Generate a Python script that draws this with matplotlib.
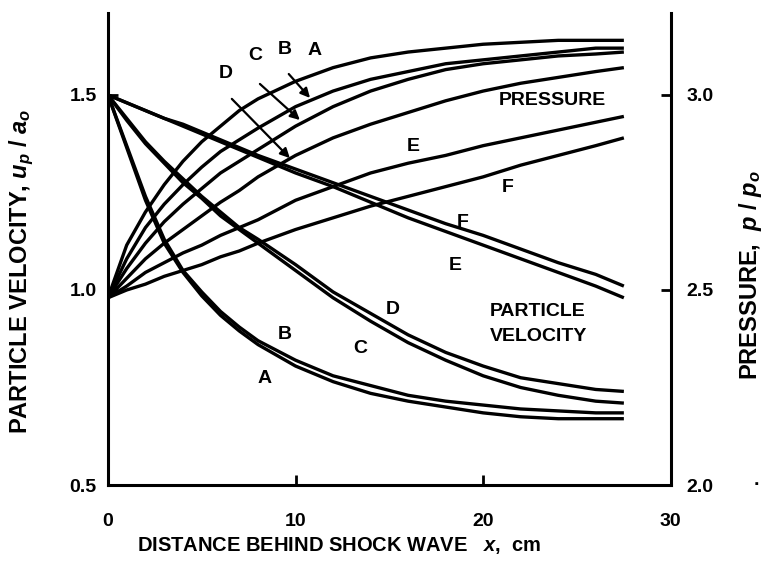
import numpy as np
import matplotlib.pyplot as plt

plt.rcParams['font.family'] = ['Liberation Sans', 'DejaVu Sans']
plt.rcParams['mathtext.fontset'] = 'custom'
plt.rcParams['mathtext.rm'] = 'Liberation Sans:bold'
plt.rcParams['mathtext.it'] = 'Liberation Sans:italic:bold'
plt.rcParams['mathtext.bf'] = 'Liberation Sans:bold'

# distance behind shock wave [cm]
x = [0, 1, 2, 3, 4, 5, 6, 7, 8, 10, 12, 14, 16, 18, 20, 22, 24, 26, 27.5]

# particle velocity u_p / a_o
u_A = [1.5, 1.365, 1.23, 1.12, 1.045, 0.985, 0.935, 0.895, 0.86, 0.805, 0.765, 0.735, 0.715, 0.70, 0.685, 0.675, 0.67, 0.67, 0.67]
u_B = [1.5, 1.37, 1.24, 1.13, 1.05, 0.995, 0.945, 0.905, 0.87, 0.82, 0.78, 0.755, 0.73, 0.715, 0.705, 0.695, 0.69, 0.685, 0.685]
u_C = [1.5, 1.435, 1.375, 1.325, 1.275, 1.235, 1.19, 1.155, 1.12, 1.05, 0.98, 0.92, 0.865, 0.82, 0.78, 0.75, 0.73, 0.715, 0.71]
u_D = [1.5, 1.44, 1.38, 1.33, 1.285, 1.24, 1.20, 1.16, 1.13, 1.065, 0.995, 0.94, 0.885, 0.84, 0.805, 0.775, 0.76, 0.745, 0.74]
u_E = [1.5, 1.48, 1.46, 1.44, 1.42, 1.40, 1.38, 1.36, 1.34, 1.30, 1.265, 1.225, 1.185, 1.15, 1.115, 1.08, 1.045, 1.01, 0.98]
u_F = [1.5, 1.48, 1.46, 1.44, 1.425, 1.405, 1.385, 1.365, 1.345, 1.31, 1.275, 1.24, 1.205, 1.17, 1.14, 1.105, 1.07, 1.04, 1.01]

# pressure p / p_o
p_A = [2.48, 2.615, 2.70, 2.77, 2.83, 2.88, 2.92, 2.96, 2.99, 3.035, 3.07, 3.095, 3.11, 3.12, 3.13, 3.135, 3.14, 3.14, 3.14]
p_B = [2.48, 2.58, 2.66, 2.72, 2.77, 2.815, 2.855, 2.885, 2.915, 2.97, 3.01, 3.04, 3.06, 3.08, 3.09, 3.10, 3.11, 3.12, 3.12]
p_C = [2.48, 2.555, 2.62, 2.675, 2.72, 2.76, 2.80, 2.83, 2.86, 2.92, 2.97, 3.01, 3.04, 3.065, 3.08, 3.09, 3.10, 3.105, 3.11]
p_D = [2.48, 2.53, 2.58, 2.62, 2.655, 2.69, 2.725, 2.755, 2.79, 2.845, 2.89, 2.925, 2.955, 2.985, 3.01, 3.03, 3.045, 3.06, 3.07]
p_E = [2.48, 2.51, 2.545, 2.57, 2.595, 2.615, 2.64, 2.66, 2.68, 2.73, 2.765, 2.80, 2.825, 2.845, 2.87, 2.89, 2.91, 2.93, 2.945]
p_F = [2.48, 2.50, 2.515, 2.535, 2.55, 2.565, 2.585, 2.60, 2.62, 2.655, 2.685, 2.715, 2.74, 2.765, 2.79, 2.82, 2.845, 2.87, 2.89]

fig = plt.figure(figsize=(7.71, 5.77), dpi=100)
ax = fig.add_axes([0.140, 0.1594, 0.730, 0.818])
ax2 = ax.twinx()

lw = 2.4
for u in [u_A, u_B, u_C, u_D, u_E, u_F]:
    ax.plot(x, u, color='black', lw=lw, solid_capstyle='butt', solid_joinstyle='round')
for p in [p_A, p_B, p_C, p_D, p_E, p_F]:
    ax2.plot(x, p, color='black', lw=lw, solid_capstyle='butt', solid_joinstyle='round')

ax.set_xlim(0, 30)
ax.set_ylim(0.5, 1.71)
ax2.set_ylim(2.0, 3.21)

ax.set_xticks([0, 10, 20, 30])
ax.set_yticks([0.5, 1.0, 1.5])
ax.set_yticklabels(['0.5', '1.0', '1.5'])
ax2.set_yticks([2.0, 2.5, 3.0])
ax2.set_yticklabels(['2.0', '2.5', '3.0'])

for a in (ax, ax2):
    a.spines['top'].set_visible(False)
    for s in a.spines.values():
        s.set_linewidth(2.2)
ax.spines['right'].set_visible(False)
ax2.spines['left'].set_visible(False)
ax2.spines['bottom'].set_visible(False)

ax.tick_params(axis='x', direction='in', length=7, width=2, pad=20, labelsize=14)
ax.tick_params(axis='y', direction='in', length=7, width=2, pad=8, labelsize=14)
ax2.tick_params(axis='y', direction='in', length=7, width=2, pad=11, labelsize=14)
for lab in ax.get_xticklabels() + ax.get_yticklabels() + ax2.get_yticklabels():
    lab.set_fontweight('bold')

# stray dot next to the 2.0 label
ax.text(1.153, 0.0, '·', transform=ax.transAxes, fontsize=14, fontweight='bold',
        ha='center', va='center')

ax.set_xlabel(r'DISTANCE BEHIND SHOCK WAVE   $x$,  cm', fontsize=14.5, fontweight='bold')
ax.xaxis.set_label_coords(0.41, -0.106)
ax.set_ylabel(r'PARTICLE VELOCITY, $u_p$ / $a_o$', fontsize=17, fontweight='bold')
ax.yaxis.set_label_coords(-0.128, 0.453)
ax2.set_ylabel(r'PRESSURE,  $p$ / $p_o$', fontsize=17, fontweight='bold', rotation=90)
ax2.yaxis.set_label_coords(1.118, 0.445)

tk = dict(fontsize=14, fontweight='bold', ha='center', va='center')
# pressure curve labels
ax.text(11.03, 1.615, 'A', **tk)
ax.text(9.43, 1.617, 'B', **tk)
ax.text(7.83, 1.600, 'C', **tk)
ax.text(6.29, 1.556, 'D', **tk)
arrow = dict(arrowstyle='-|>', color='black', lw=1.6, mutation_scale=14)
ax.annotate('', xy=(10.87, 1.487), xytext=(9.54, 1.559), arrowprops=arrow)
ax.annotate('', xy=(10.34, 1.431), xytext=(7.99, 1.533), arrowprops=arrow)
ax.annotate('', xy=(9.80, 1.333), xytext=(6.50, 1.495), arrowprops=arrow)
ax.text(16.25, 1.367, 'E', **tk)
ax.text(21.31, 1.264, 'F', **tk)
ax.text(23.71, 1.487, 'PRESSURE', **tk)

# particle velocity curve labels
ax.text(18.91, 1.174, 'F', **tk)
ax.text(18.49, 1.064, 'E', **tk)
ax.text(15.18, 0.949, 'D', **tk)
ax.text(13.43, 0.851, 'C', **tk)
ax.text(9.43, 0.885, 'B', **tk)
ax.text(8.36, 0.774, 'A', **tk)
ax.text(20.35, 0.946, 'PARTICLE', fontsize=14, fontweight='bold', ha='left', va='center')
ax.text(20.35, 0.882, 'VELOCITY', fontsize=14, fontweight='bold', ha='left', va='center')

fig.savefig('out.png', dpi=100)
